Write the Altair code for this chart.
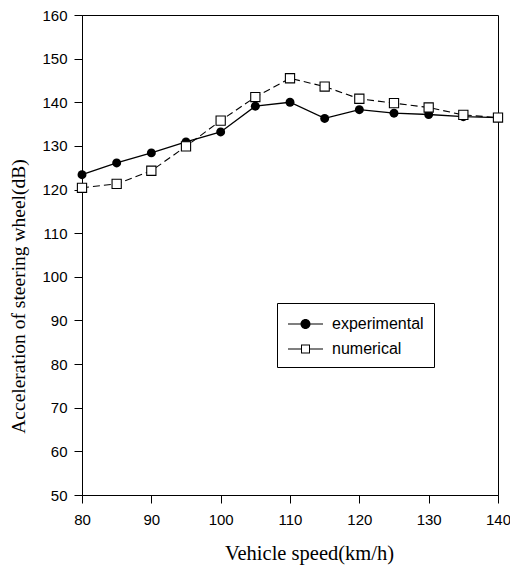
import altair as alt
import pandas as pd

speeds = [80, 85, 90, 95, 100, 105, 110, 115, 120, 125, 130, 135, 140]
experimental = [123.4, 126.1, 128.4, 130.9, 133.2, 139.1, 140.0, 136.3, 138.3, 137.5, 137.2, 136.7, 136.5]
numerical = [120.4, 121.3, 124.3, 129.9, 135.8, 141.2, 145.5, 143.6, 140.8, 139.8, 138.8, 137.1, 136.5]
series_names = ["experimental", "numerical"]
x_ticks = [80, 90, 100, 110, 120, 130, 140]
y_ticks = [50, 60, 70, 80, 90, 100, 110, 120, 130, 140, 150, 160]

rows = []
for s, v in zip(speeds, experimental):
    rows.append({"speed": s, "value": v, "series": "experimental"})
for s, v in zip(speeds, numerical):
    rows.append({"speed": s, "value": v, "series": "numerical"})
df = pd.DataFrame(rows)

# legend glyphs (line - marker - line), drawn as filled shapes
legend_paths = [
    "M-1,-0.06H0.25V0.06H-1ZM1.25,-0.06H2.5V0.06H1.25Z"
    "M0.25,0A0.5,0.5,0,1,0,1.25,0A0.5,0.5,0,1,0,0.25,0Z",
    "M-1,-0.05H0.3V0.05H-1ZM1.2,-0.05H2.5V0.05H1.2Z"
    "M0.3,-0.45H1.2V0.45H0.3ZM0.4,-0.35V0.35H1.1V-0.35Z",
]

x_enc = alt.X(
    "speed:Q",
    scale=alt.Scale(domain=[80, 140], nice=False),
    axis=alt.Axis(
        values=x_ticks, title="Vehicle speed(km/h)", grid=False,
        tickSize=8, labelPadding=9, labelFontSize=15,
        labelFont="Liberation Sans", titleFont="Liberation Serif",
        titleFontSize=20.5, titleFontWeight="normal", titleY=58, titleX=227,
        titleAlign="center", titleBaseline="middle", labelFlush=False,
    ),
)
y_enc = alt.Y(
    "value:Q",
    scale=alt.Scale(domain=[50, 160], nice=False, zero=False),
    axis=alt.Axis(
        values=y_ticks, title="Acceleration of steering wheel(dB)", grid=False,
        tickSize=8, labelPadding=7, labelFontSize=15,
        labelFont="Liberation Sans", titleFont="Liberation Serif",
        titleFontSize=19.5, titleFontWeight="normal", titleX=-64, titleY=281,
        titleAngle=-90, titleAlign="center", titleBaseline="middle", labelFlush=False,
    ),
)

base = alt.Chart(df)
exp_base = base.transform_filter(alt.datum.series == "experimental")
num_base = base.transform_filter(alt.datum.series == "numerical")

exp_line = exp_base.mark_line(color="black", strokeWidth=1.3).encode(x=x_enc, y=y_enc)
num_line = num_base.mark_line(color="black", strokeWidth=1.1, strokeDash=[7, 4]).encode(x=x_enc, y=y_enc)

exp_pts = exp_base.mark_point(
    shape="circle", filled=True, color="black", opacity=1, size=80
).encode(x=x_enc, y=y_enc)
num_pts = num_base.mark_point(
    shape="square", fill="white", stroke="black", strokeWidth=1.1, opacity=1, size=85
).encode(x=x_enc, y=y_enc)

legend_layer = base.transform_filter("false").mark_point(
    filled=True, color="black", opacity=1
).encode(
    x=x_enc, y=y_enc,
    shape=alt.Shape(
        "series:N",
        scale=alt.Scale(domain=series_names, range=legend_paths),
        legend=alt.Legend(
            title=None, symbolFillColor="black", symbolSize=400, symbolOpacity=1,
        ),
    ),
)

chart = (
    alt.layer(exp_line, num_line, exp_pts, num_pts, legend_layer)
    .properties(
        width=416, height=480,
        autosize=alt.AutoSizeParams(type="none"),
        padding={"left": 74, "top": 7, "right": 12, "bottom": 70},
    )
    .configure_view(stroke="black", strokeWidth=1)
    .configure_axis(
        domainColor="black", tickColor="black", labelColor="black",
        titleColor="black", domainWidth=1, tickWidth=1,
    )
    .configure_legend(
        orient="none", legendX=195, legendY=288,
        strokeColor="black", strokeWidth=1, fillColor="white",
        padding=10, labelFont="Liberation Sans",
        labelFontSize=16, labelColor="black", labelOffset=23,
        rowPadding=6,
    )
)

chart.save("out.html", embed_options={"renderer": "svg", "actions": False})
